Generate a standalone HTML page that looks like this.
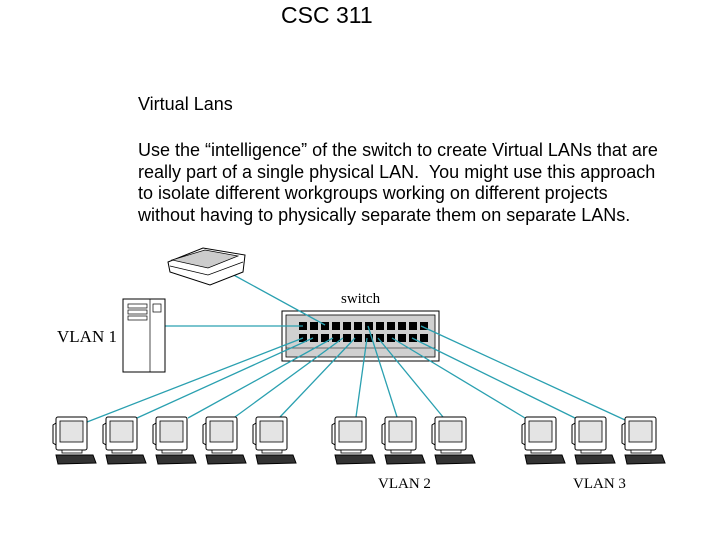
<!DOCTYPE html>
<html><head><style>
body{margin:0;width:720px;height:540px;background:#fff;overflow:hidden;position:relative;font-family:"Liberation Sans",sans-serif}
.t{position:absolute;left:138px;font-size:18px;line-height:21.5px;color:#000;white-space:nowrap}
</style></head><body>
<div style="position:absolute;left:281px;top:2px;font-size:23px">CSC 311</div>
<div class="t" style="top:94px">Virtual Lans</div>
<div class="t" style="top:140px">Use the “intelligence” of the switch to create Virtual LANs that are<br>really part of a single physical LAN.&nbsp; You might use this approach<br>to isolate different workgroups working on different projects<br>without having to physically separate them on separate LANs.</div>
<svg width="720" height="540" style="position:absolute;left:0;top:0" font-family="Liberation Serif,serif">
<defs>
<g id="pc">
<rect x="3" y="0" width="31" height="33" rx="2" fill="#fff" stroke="#000" stroke-width="1"/>
<path d="M3 6 L0 8 L0 26 L3 28" fill="none" stroke="#000"/>
<rect x="7" y="4" width="23" height="21" fill="#e4e4e4" stroke="#000" stroke-width="0.8"/>
<rect x="9" y="33" width="20" height="3" fill="#fff" stroke="#000" stroke-width="0.8"/>
<path d="M3 38 L40 38 L43 46 L5 47 Z" fill="#333" stroke="#000"/>
</g>
</defs>
<rect x="282" y="311" width="157" height="50" fill="#fff" stroke="#000"/>
<rect x="286" y="315" width="149" height="42" fill="#d0d0d0" stroke="#000" stroke-width="0.8"/>
<line x1="286" y1="348" x2="435" y2="348" stroke="#000" stroke-width="0.6"/>
<g fill="#000">
<rect x="299" y="322" width="8" height="8"/><rect x="310" y="322" width="8" height="8"/><rect x="321" y="322" width="8" height="8"/><rect x="332" y="322" width="8" height="8"/><rect x="343" y="322" width="8" height="8"/><rect x="354" y="322" width="8" height="8"/><rect x="365" y="322" width="8" height="8"/><rect x="376" y="322" width="8" height="8"/><rect x="387" y="322" width="8" height="8"/><rect x="398" y="322" width="8" height="8"/><rect x="409" y="322" width="8" height="8"/><rect x="420" y="322" width="8" height="8"/>
<rect x="299" y="334" width="8" height="8"/><rect x="310" y="334" width="8" height="8"/><rect x="321" y="334" width="8" height="8"/><rect x="332" y="334" width="8" height="8"/><rect x="343" y="334" width="8" height="8"/><rect x="354" y="334" width="8" height="8"/><rect x="365" y="334" width="8" height="8"/><rect x="376" y="334" width="8" height="8"/><rect x="387" y="334" width="8" height="8"/><rect x="398" y="334" width="8" height="8"/><rect x="409" y="334" width="8" height="8"/><rect x="420" y="334" width="8" height="8"/>
</g>
<g stroke="#2aa0b0" stroke-width="1.3" fill="none">
<line x1="230" y1="273" x2="325" y2="325"/>
<line x1="165" y1="326" x2="303" y2="326"/>
<line x1="87" y1="422" x2="303" y2="338"/>
<line x1="137" y1="418" x2="313" y2="338"/>
<line x1="188" y1="418" x2="333" y2="338"/>
<line x1="235" y1="417" x2="343" y2="338"/>
<line x1="280" y1="417" x2="355" y2="338"/>
<line x1="356" y1="417" x2="367" y2="338"/>
<line x1="397" y1="417" x2="368" y2="326"/>
<line x1="443" y1="417" x2="378" y2="338"/>
<line x1="525" y1="418" x2="392" y2="338"/>
<line x1="577" y1="419" x2="412" y2="338"/>
<line x1="625" y1="420" x2="421" y2="326"/>
</g>
<!-- server -->
<rect x="123" y="299" width="42" height="73" fill="#fff" stroke="#000"/>
<line x1="150" y1="299" x2="150" y2="372" stroke="#000" stroke-width="0.7"/>
<g stroke="#000" stroke-width="0.7" fill="none">
<rect x="128" y="304" width="19" height="4"/><rect x="128" y="310" width="19" height="4"/><rect x="128" y="316" width="19" height="4"/>
<rect x="153" y="304" width="8" height="8"/>
</g>
<!-- scanner -->
<path d="M168 262 L203 248 L245 255 L243 272 L210 285 L170 272 Z" fill="#fff" stroke="#000"/>
<path d="M172 260 L205 250 L238 256 L208 268 Z" fill="#ccc" stroke="#000" stroke-width="0.7"/>
<path d="M170 266 L208 275 L243 262" fill="none" stroke="#000" stroke-width="0.7"/>
<g>
<use href="#pc" x="53" y="417"/><use href="#pc" x="103" y="417"/><use href="#pc" x="153" y="417"/><use href="#pc" x="203" y="417"/><use href="#pc" x="253" y="417"/>
<use href="#pc" x="332" y="417"/><use href="#pc" x="382" y="417"/><use href="#pc" x="432" y="417"/>
<use href="#pc" x="522" y="417"/><use href="#pc" x="572" y="417"/><use href="#pc" x="622" y="417"/>
</g>
<text x="57" y="342" font-size="17">VLAN 1</text>
<text x="341" y="303" font-size="15">switch</text>
<text x="378" y="488" font-size="15">VLAN 2</text>
<text x="573" y="488" font-size="15">VLAN 3</text>
</svg>
</body></html>
